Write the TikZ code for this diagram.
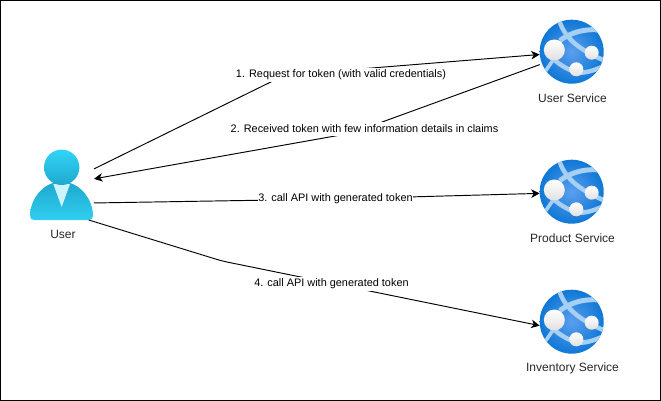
\documentclass[tikz,border=0pt]{standalone}
\usepackage{fontspec}
\setmainfont{Liberation Sans}
\usetikzlibrary{arrows.meta,calc}
\definecolor{azdeep}{HTML}{0F78D6}
\definecolor{azmid}{HTML}{5C9EEE}
\definecolor{azband}{HTML}{A6CFF3}
\definecolor{cyantop}{HTML}{32D4F5}
\definecolor{cyanbot}{HTML}{1FA9CF}
\definecolor{collar}{HTML}{CDF3FD}
\tikzset{
  anchorbox/.style={rectangle,inner sep=0pt,outer sep=0pt},
  caption/.style={font=\fontsize{12}{14}\selectfont,text=black!85,inner sep=0pt},
  edgelabel/.style={font=\fontsize{10.9}{13}\selectfont,fill=white,inner sep=0pt,minimum height=13.5pt,inner xsep=0.5pt},
  link/.style={line width=0.95pt,rounded corners=6pt,-{Stealth[length=8.5pt,width=8.5pt,inset=2.5pt]}},
  band/.style={azband,line width=4.5pt},
  ball/.style={top color=white,middle color=white,bottom color=black!12}
}
\newcommand{\svcicon}[1]{%
  \begin{scope}[shift={(#1.center)}]
    \begin{scope}
      \clip (0,0) circle[radius=32];
      \shade[inner color=azmid,outer color=azdeep] (0,0) circle[radius=32];
      \draw[band] (-13,-33) .. controls (-8,-15) and (5,-3) .. (33,9);
      \draw[band,line width=5pt] (-12,-11) .. controls (0,-20) and (15,-24) .. (33,-21);
      \draw[band] (-20,6) .. controls (-10,15) and (0,20) .. (8,21) .. controls (16,21) and (24,18) .. (33,14);
      \draw[band,line width=3.6pt] (-28,22) -- (-17,6);
    \end{scope}
    \shade[ball] (-17.4,-1.7) circle[radius=10.5];
    \shade[ball] (20,1) circle[radius=7];
    \shade[ball] (4.6,17.6) circle[radius=7];
  \end{scope}}
\begin{document}
\begin{tikzpicture}[x=1pt,y=-1pt]
\useasboundingbox (0,0) rectangle (661,401);
\draw[black,line width=1.4pt] (0.7,0.7) rectangle (660.3,400.3);
% nodes
\node[anchorbox,minimum width=64pt,minimum height=71pt] (user) at (62,184.5) {};
\node[anchorbox,minimum width=64pt,minimum height=64pt] (usersvc) at (571.7,51.7) {};
\node[anchorbox,minimum width=64pt,minimum height=64pt] (prodsvc) at (571.7,191.7) {};
\node[anchorbox,minimum width=64pt,minimum height=64pt] (invsvc) at (571.7,321.7) {};
% user icon
\begin{scope}[shift={(user.center)},shift={(-62,-184.5)}]
  \shade[top color=cyanbot,bottom color=cyantop!85!cyanbot]
    (30,215) .. controls (31,197) and (43,186) .. (53,183) -- (70,183)
    .. controls (80,186) and (92,197) .. (93,215)
    .. controls (93,218) and (92,220) .. (89,220) -- (34,220)
    .. controls (31,220) and (30,218) .. (30,215) -- cycle;
  \fill[collar] (53.3,184) -- (70,184) -- (61.7,207) -- cycle;
  \shade[top color=cyantop,bottom color=cyanbot] (61.7,167.3) circle[radius=17.7];
\end{scope}
\svcicon{usersvc}
\svcicon{prodsvc}
\svcicon{invsvc}
% captions
\node[caption] (usercap) at (63,234) {User};
\node[caption] (usersvccap) at (572.5,98) {User Service};
\node[caption] (prodsvccap) at (572.5,238) {Product Service};
\node[caption] (invsvccap) at (572.5,368) {Inventory Service};
% waypoints
\coordinate (w1) at (285,75);
\coordinate (w2) at (352,133);
\coordinate (w3) at (335,199);
\coordinate (w4) at (222,261);
% connectors
\draw[link] (user.26) -- (w1) -- (usersvc.185);
\draw[link] (usersvc.202) -- (w2) -- (user.10);
\draw[link] (user.-30) -- (w3) -- (prodsvc.183);
\draw[link] (user.-53.3) -- (w4) -- (invsvc.187);
% connector labels
\node[edgelabel] (l1) at (341,75) {1. Request for token (with valid credentials)};
\node[edgelabel] (l2) at (364.5,129) {2. Received token with few information details in claims};
\node[edgelabel] (l3) at (335.5,199) {3. call API with generated token};
\node[edgelabel] (l4) at (331.5,284) {4. call API with generated token};
\end{tikzpicture}
\end{document}
